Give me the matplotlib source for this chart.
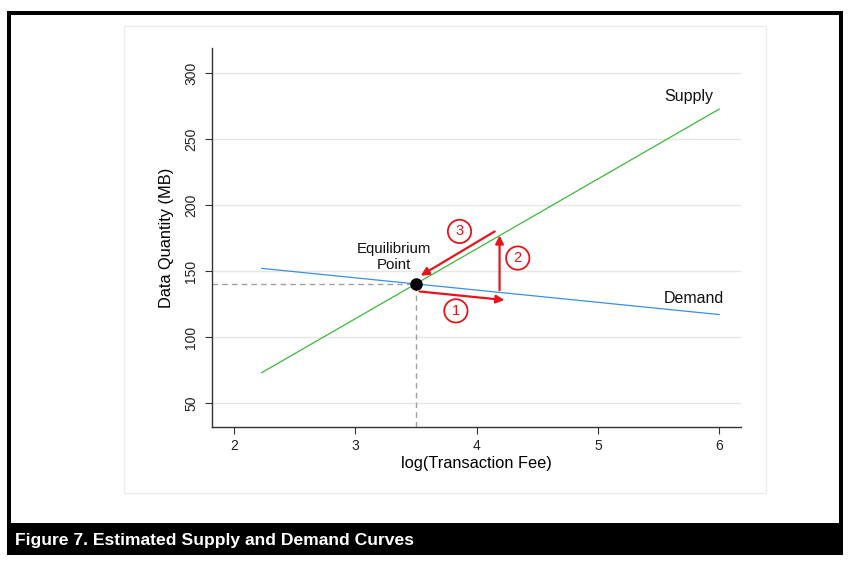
import matplotlib
matplotlib.use("Agg")
import matplotlib.pyplot as plt
from matplotlib.patches import Rectangle

plt.rcParams['font.family'] = ['Liberation Sans', 'DejaVu Sans']

# ---- data ----
fee_ends = [2.23, 6.0]
demand_ends = [152.0, 117.0]
supply_ends = [73.0, 272.7]
eq_x, eq_y = 3.5, 140.5
x_ticks = [2, 3, 4, 5, 6]
y_ticks = [50, 100, 150, 200, 250, 300]
# arrows: (x_start, y_start, x_end, y_end), label, label position
arrow_1 = (3.53, 134.5, 4.23, 128.0)
arrow_2 = (4.19, 135.5, 4.19, 177.0)
arrow_3 = (4.15, 180.0, 3.54, 146.5)
arrow_labels = ["1", "2", "3"]
arrow_label_pos = [(3.83, 119.8), (4.34, 159.8), (3.86, 180.0)]

W, H = 852, 566
fig = plt.figure(figsize=(W / 100, H / 100), dpi=100)
fig.patch.set_facecolor('white')

def fr(x0, y0, x1, y1):
    # pixel box (top-left origin) -> figure fraction rect
    return (x0 / W, 1 - y1 / H, (x1 - x0) / W, (y1 - y0) / H)

# outer black frame + caption bar
r = fr(7, 11, 843, 555)
fig.patches.append(Rectangle(r[:2], r[2], r[3], transform=fig.transFigure,
                             facecolor='black', edgecolor='none', zorder=0))
r = fr(11, 15, 839, 523)
fig.patches.append(Rectangle(r[:2], r[2], r[3], transform=fig.transFigure,
                             facecolor='white', edgecolor='none', zorder=0.5))
# Stata graph region border
r = fr(124, 26, 766, 493)
fig.patches.append(Rectangle(r[:2], r[2], r[3], transform=fig.transFigure,
                             facecolor='white', edgecolor='#ececec', lw=1.0, zorder=0.6))

fig.text(15 / W, 1 - 540 / H, "Figure 7. Estimated Supply and Demand Curves",
         color='white', fontsize=12.6, fontweight='bold', va='center', ha='left',
         family=['Liberation Sans Narrow', 'Liberation Sans', 'DejaVu Sans'])

ax = fig.add_axes(fr(212, 48, 741, 427))
ax.set_facecolor('none')
ax.set_zorder(2)

ax.set_xlim(1.82, 6.18)
ax.set_ylim(31.8, 319)

ax.set_yticks(y_ticks)
ax.set_xticks(x_ticks)
ax.grid(axis='y', color='#e6e6e6', lw=1.0)
ax.set_axisbelow(True)
for s in ['top', 'right']:
    ax.spines[s].set_visible(False)
for s in ['left', 'bottom']:
    ax.spines[s].set_color('#333333')
    ax.spines[s].set_linewidth(1.0)
ax.tick_params(axis='both', direction='out', length=5, color='#333333',
               labelsize=10, labelcolor='#222222')
ax.tick_params(axis='y', pad=5)
for lab in ax.get_yticklabels():
    lab.set_rotation(90)
    lab.set_va('center')

ax.set_ylabel("Data Quantity (MB)", fontsize=11.8, labelpad=7)
ax.set_xlabel("log(Transaction Fee)", fontsize=11.8, labelpad=2)

# dashed reference lines
ax.plot([1.82, eq_x], [eq_y, eq_y], ls=(0, (4, 3)), color='#a0a0a0', lw=1.0)
ax.plot([eq_x, eq_x], [31.8, eq_y], ls=(0, (4, 3)), color='#a0a0a0', lw=1.0)

# curves
ax.plot(fee_ends, demand_ends, color='#3a8fe0', lw=0.9)
ax.plot(fee_ends, supply_ends, color='#3cb83c', lw=0.9)

# equilibrium point
ax.plot([eq_x], [eq_y], 'o', color='black', ms=8, zorder=5)

# arrows
for (x0, y0, x1, y1) in [arrow_1, arrow_2, arrow_3]:
    ax.annotate("", xy=(x1, y1), xytext=(x0, y0),
                arrowprops=dict(arrowstyle='-|>', color='#e8141b', lw=1.6,
                                mutation_scale=12, shrinkA=0, shrinkB=0),
                zorder=6)
for lab, (lx, ly) in zip(arrow_labels, arrow_label_pos):
    ax.text(lx, ly, lab, color='#e8141b', fontsize=10.5, ha='center', va='center',
            bbox=dict(boxstyle='circle,pad=0.32', fc='white', ec='#e8141b', lw=1.3),
            zorder=7)

ax.text(3.32, 160.6, "Equilibrium\nPoint", ha='center', va='center',
        fontsize=10.8, color='#111111', linespacing=1.2)
ax.text(5.75, 282.6, "Supply", ha='center', va='center', fontsize=11.5, color='#111111')
ax.text(5.79, 129.5, "Demand", ha='center', va='center', fontsize=11.5, color='#111111')

fig.savefig("out.png", dpi=100)
